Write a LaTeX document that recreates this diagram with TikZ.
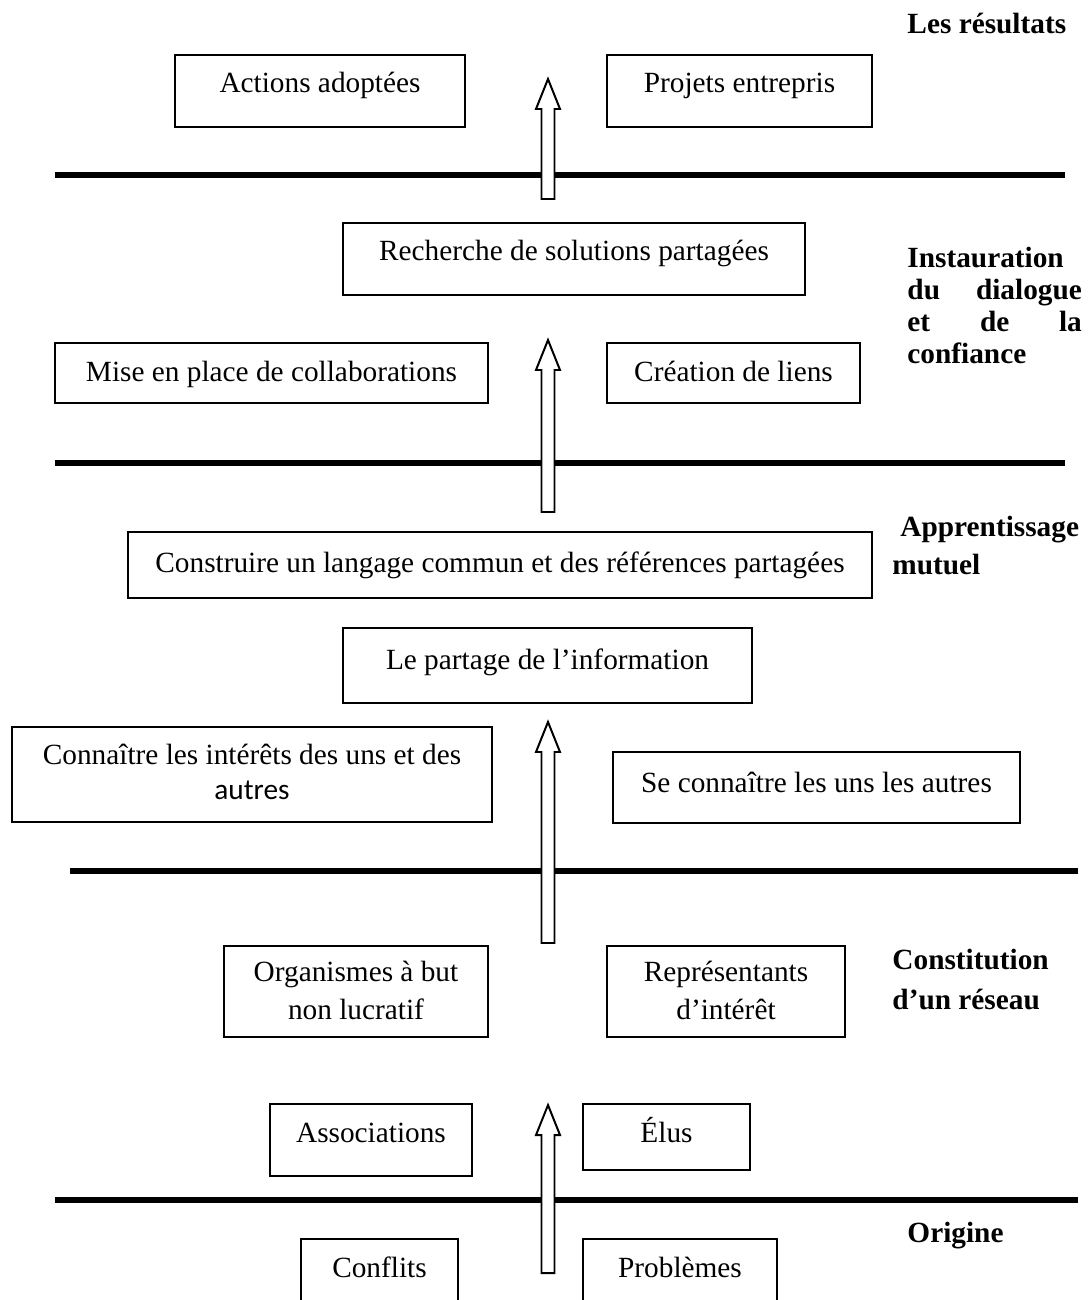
\documentclass[tikz,border=0pt]{standalone}
\usepackage{fontspec}
\setmainfont{Liberation Serif}
\newfontfamily\calibrifont{Carlito}
\usetikzlibrary{calc,fit}

\tikzset{
  box/.style={draw, line width=0.85pt, inner sep=0pt},
  txt/.style={anchor=base, inner sep=0pt, font=\fontsize{12.6}{15}\selectfont},
  tag/.style={anchor=base west, inner sep=0pt, font=\bfseries\fontsize{12.6}{15}\selectfont},
  rule/.style={line width=2.6pt},
  barrow/.style={draw, fill=white, line width=0.85pt, line join=miter},
}

% hollow block arrow from a tail coordinate to a tip coordinate
\newcommand\blockarrow[2]{%
  \draw[barrow] ($(#1)+(-6.5,0)$) -- ($(#1)+(6.5,0)$) -- ($(#2)+(6.5,30)$)
    -- ($(#2)+(12,30)$) -- (#2) -- ($(#2)+(-12,30)$) -- ($(#2)+(-6.5,30)$) -- cycle;}

\begin{document}
\begin{tikzpicture}[x=0.43pt,y=-0.43pt]
\useasboundingbox (0,0) rectangle (1088,1300);

% ---- level separators
\coordinate (r1w) at (55,175);  \coordinate (r1e) at (1065,175);
\coordinate (r2w) at (55,463);  \coordinate (r2e) at (1065,463);
\coordinate (r3w) at (70,871);  \coordinate (r3e) at (1078,871);
\coordinate (r4w) at (55,1200); \coordinate (r4e) at (1078,1200);
\draw[rule] (r1w) -- (r1e);
\draw[rule] (r2w) -- (r2e);
\draw[rule] (r3w) -- (r3e);
\draw[rule] (r4w) -- (r4e);

% ---- upward arrows
\coordinate (a1s) at (548,199);  \coordinate (a1t) at (548,79);
\coordinate (a2s) at (548,512);  \coordinate (a2t) at (548,340);
\coordinate (a3s) at (548,943);  \coordinate (a3t) at (548,722);
\coordinate (a4s) at (548,1273); \coordinate (a4t) at (548,1105);
\blockarrow{a1s}{a1t}
\blockarrow{a2s}{a2t}
\blockarrow{a3s}{a3t}
\blockarrow{a4s}{a4t}

% ---- results
\node[box, fit={(175,55)(465,127)}] (actions) {};
\node[txt] (actionsT) at (actions.center |- 0,93) {Actions adoptées};
\node[box, fit={(607,55)(872,127)}] (projets) {};
\node[txt] (projetsT) at (projets.center |- 0,93) {Projets entrepris};
\node[tag] (resultats) at (907,34) {Les résultats};

% ---- dialogue and trust
\node[box, fit={(343,223)(805,295)}] (recherche) {};
\node[txt] (rechercheT) at (recherche.center |- 0,261) {Recherche de solutions partagées};
\node[box, fit={(55,343)(488,403)}] (mise) {};
\node[txt] (miseT) at (mise.center |- 0,381) {Mise en place de collaborations};
\node[box, fit={(607,343)(860,403)}] (creation) {};
\node[txt] (creationT) at (creation.center |- 0,381) {Création de liens};
\node[tag] (inst1) at (907,267) {Instauration};
\node[tag] (inst2) at (907,299) {\hbox to 75pt{du\hfil dialogue}};
\node[tag] (inst3) at (907,331) {\hbox to 75pt{et\hfil de\hfil la}};
\node[tag] (inst4) at (907,363) {confiance};

% ---- mutual learning
\node[box, fit={(128,532)(872,598)}] (construire) {};
\node[txt] (construireT) at (construire.center |- 0,572) {Construire un langage commun et des références partagées};
\node[box, fit={(343,628)(752,703)}] (partage) {};
\node[txt] (partageT) at (partage.center |- 0,669) {Le partage de l’information};
\node[box, fit={(12,727)(492,822)}] (interets) {};
\node[txt] (interetsT1) at (interets.center |- 0,764) {Connaître les intérêts des uns et des};
\node[txt, font=\calibrifont\fontsize{12.6}{15}\selectfont] (interetsT2) at (interets.center |- 0,799) {autres};
\node[box, fit={(613,752)(1020,823)}] (seconnaitre) {};
\node[txt] (seconnaitreT) at (seconnaitre.center |- 0,792) {Se connaître les uns les autres};
\node[tag] (appr1) at (900,536) {Apprentissage};
\node[tag] (appr2) at (892,574) {mutuel};

% ---- network
\node[box, fit={(224,946)(488,1037)}] (organismes) {};
\node[txt] (organismesT1) at (organismes.center |- 0,981) {Organismes à but};
\node[txt] (organismesT2) at (organismes.center |- 0,1019) {non lucratif};
\node[box, fit={(607,946)(845,1037)}] (representants) {};
\node[txt] (representantsT1) at (representants.center |- 0,981) {Représentants};
\node[txt] (representantsT2) at (representants.center |- 0,1019) {d’intérêt};
\node[box, fit={(270,1104)(472,1176)}] (associations) {};
\node[txt] (associationsT) at (associations.center |- 0,1142) {Associations};
\node[box, fit={(583,1104)(750,1170)}] (elus) {};
\node[txt] (elusT) at (elus.center |- 0,1142) {Élus};
\node[tag] (const1) at (892,969) {Constitution};
\node[tag] (const2) at (892,1009) {d’un réseau};

% ---- origin
\node[box, fit={(301,1239)(458,1320)}] (conflits) {};
\node[txt] (conflitsT) at (conflits.center |- 0,1277) {Conflits};
\node[box, fit={(583,1239)(777,1320)}] (problemes) {};
\node[txt] (problemesT) at (problemes.center |- 0,1277) {Problèmes};
\node[tag] (origine) at (907,1242) {Origine};
\end{tikzpicture}
\end{document}
